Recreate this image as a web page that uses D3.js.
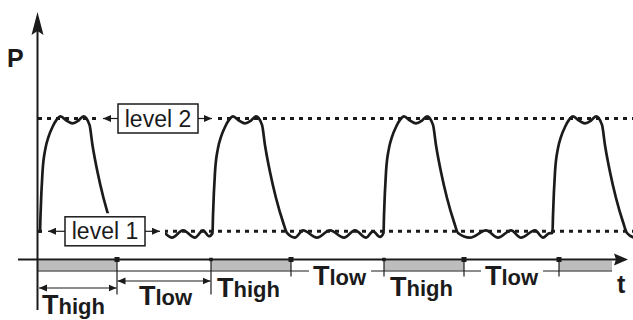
<!DOCTYPE html>
<html><head><meta charset="utf-8">
<script src="https://cdn.jsdelivr.net/npm/d3@7"></script>
<style>html,body{margin:0;padding:0;background:#fff;overflow:hidden}svg{display:block}</style>
</head><body><svg id="c" width="633" height="320"></svg>
<script>
// ---- data (time in arbitrary units, P in % of level 2) ----
const pulseStarts = [2, 174.5, 345.5, 514.5];
const pulseShape = [[0,18.8],[0.5,31],[2.5,62],[5.5,79],[8.5,87],[12.5,94],[16.5,99],[20.5,101.5],[26.5,98.5],[32.5,96.5],[38.5,98.5],[43.5,101.5],[49.5,95.5],[52.5,81],[57.5,62],[63.5,43.6],[70.5,26.6],[74.5,18.8]];
const lowRipple1 = [[87,15.5],[99,20.6],[111,15.5],[122,20.6],[134,15.5],[145,20.6],[157,15.5],[165,20.6],[171,16.5]];
const lowRipple2 = [[257,15.5],[265,20.6],[279,15.5],[292,20.6],[306,15.5],[317,20.6],[328,15.5],[335,20],[342,16]];
const lowRipple3 = [[432,15.5],[448,20.6],[460,15.5],[473,20.6],[483,15.5],[497,20.6],[505,15.5],[511,18.5]];
const lowRipple4 = [[596,15.5]];
const levelValues = [20, 100];
const levelLabels = ["level 1", "level 2"];
const periodTicks = [79, 173, 253, 346, 426, 521];
const highIntervals = [[0,79],[173,253],[346,426],[521,574]];
const intervalMain = ["T","T","T","T","T","T"];
const intervalSub = ["high","low","high","low","high","low"];

// ---- scales ----
const x = d3.scaleLinear().domain([0, 595]).range([38, 633]);
const y = d3.scaleLinear().domain([0, 100]).range([259.5, 118.5]);
const ink = "#1b1b1b";
const font = "'Liberation Sans', Arial, sans-serif";
const svg = d3.select("#c");

// markers
const defs = svg.append("defs");
defs.append("marker").attr("id","ah").attr("viewBox","0 0 8 8").attr("refX",8).attr("refY",4)
  .attr("markerWidth",8).attr("markerHeight",8).attr("markerUnits","userSpaceOnUse").attr("orient","auto-start-reverse")
  .append("path").attr("d","M0,0.5 L8,4 L0,7.5 Z").attr("fill",ink);

// level dotted lines
svg.selectAll(".lvl").data(levelValues).join("line").attr("class","lvl")
  .attr("x1", x(0)).attr("x2", 633).attr("y1", d=>y(d)).attr("y2", d=>y(d))
  .attr("stroke", ink).attr("stroke-width", 3).attr("stroke-dasharray", "4,5");

// waveform
const lows = [lowRipple1, lowRipple2, lowRipple3, lowRipple4];
const wave = pulseStarts.flatMap((s,i)=>[...pulseShape.map(([dt,p])=>[s+dt,p]), ...lows[i]]);
svg.append("path").datum(wave)
  .attr("d", d3.line().x(d=>x(d[0])).y(d=>y(d[1])).curve(d3.curveMonotoneX))
  .attr("fill","none").attr("stroke",ink).attr("stroke-width",2.7).attr("stroke-linejoin","round");

// level annotations (box + arrows)
const ann = [{t0:27, t1:107, tl:10, tr:122, m0:6, m1:127, mh:18}, {t0:80, t1:160, tl:65, tr:174, m0:61, m1:178, mh:6}];
levelValues.forEach((lv,i)=>{
  const a = ann[i], cy = y(lv);
  svg.append("rect").attr("x",x(a.m0)).attr("y",cy-a.mh).attr("width",x(a.m1)-x(a.m0)).attr("height",2*a.mh).attr("fill","#fff");
  svg.append("line").attr("x1",x(a.t0)).attr("x2",x(a.tl)).attr("y1",cy).attr("y2",cy)
    .attr("stroke",ink).attr("stroke-width",1.2).attr("marker-end","url(#ah)");
  svg.append("line").attr("x1",x(a.t1)).attr("x2",x(a.tr)).attr("y1",cy).attr("y2",cy)
    .attr("stroke",ink).attr("stroke-width",1.2).attr("marker-end","url(#ah)");
  svg.append("rect").attr("x",x(a.t0)).attr("y",cy-14.5).attr("width",x(a.t1)-x(a.t0)).attr("height",29)
    .attr("fill","#fff").attr("stroke",ink).attr("stroke-width",1.5);
  svg.append("text").attr("x",(x(a.t0)+x(a.t1))/2).attr("y",cy+8).attr("text-anchor","middle")
    .attr("font-family",font).attr("font-size",23).attr("fill",ink).text(levelLabels[i]);
});

// gray high bars + thin baseline
svg.selectAll(".hb").data(highIntervals).join("rect").attr("class","hb")
  .attr("x",d=>x(d[0])).attr("width",d=>x(d[1])-x(d[0])).attr("y",260.5).attr("height",10).attr("fill","#bdbdbd");
svg.append("line").attr("x1",x(0)).attr("x2",x(574)).attr("y1",271).attr("y2",271).attr("stroke",ink).attr("stroke-width",1);

// interval labels
const labelOffsets = [[0,4,314],[79,22,305],[173,6,297],[253,22,285],[346,6,296],[426,21,285]];
intervalSub.forEach((sub,i)=>{
  const [t,dx,by] = labelOffsets[i];
  const g = svg.append("g");
  const tx = g.append("text").attr("x",x(t)+dx).attr("y",by).attr("font-family",font).attr("font-weight","bold").attr("fill",ink);
  tx.append("tspan").attr("font-size",27).text(intervalMain[i]);
  tx.append("tspan").attr("font-size",22).text(sub);
  if (by < 290) {
    const bb = tx.node().getBBox();
    g.insert("rect","text").attr("x",bb.x-4).attr("y",264).attr("width",bb.width+8).attr("height",26).attr("fill","#fff");
  }
});

// period ticks
const tickLen = [35, 35, 17, 17, 17, 17];
const tickSq = [5, 3.5, 5, 3.5, 5, 5];
periodTicks.forEach((t,i)=>{
  svg.append("line").attr("x1",x(t)).attr("x2",x(t)).attr("y1",259.5).attr("y2",259.5+tickLen[i]).attr("stroke",ink).attr("stroke-width",1.2);
});
// duration arrows
svg.append("line").attr("x1",x(0)+1).attr("x2",x(79)-0.5).attr("y1",288).attr("y2",288)
  .attr("stroke",ink).attr("stroke-width",1.2).attr("marker-start","url(#ah)").attr("marker-end","url(#ah)");
svg.append("line").attr("x1",x(79)+0.5).attr("x2",x(173)-0.5).attr("y1",281).attr("y2",281)
  .attr("stroke",ink).attr("stroke-width",1.2).attr("marker-start","url(#ah)").attr("marker-end","url(#ah)");

// axes
svg.append("line").attr("x1",18).attr("x2",620).attr("y1",259.5).attr("y2",259.5).attr("stroke",ink).attr("stroke-width",2);
svg.append("path").attr("d","M628,259.5 L614,253.5 L616,259.5 L614,265.5 Z").attr("fill",ink);
svg.append("line").attr("x1",x(0)-0.5).attr("x2",x(0)-0.5).attr("y1",310).attr("y2",26).attr("stroke",ink).attr("stroke-width",2);
svg.append("path").attr("d",`M${x(0)-0.5},12 L${x(0)+5.5},35 L${x(0)-0.5},31 L${x(0)-6.5},35 Z`).attr("fill",ink);

// tick squares
periodTicks.forEach((t,i)=>{
  const s = tickSq[i];
  svg.append("rect").attr("x",x(t)-s/2).attr("y",259.5-s/2).attr("width",s).attr("height",s).attr("fill",ink);
});

// axis titles
svg.append("text").attr("x",7).attr("y",67).attr("font-family",font).attr("font-weight","bold").attr("font-size",25).attr("fill",ink).text("P");
svg.append("text").attr("x",617).attr("y",293).attr("font-family",font).attr("font-weight","bold").attr("font-size",25).attr("fill",ink).text("t");
</script></body></html>
